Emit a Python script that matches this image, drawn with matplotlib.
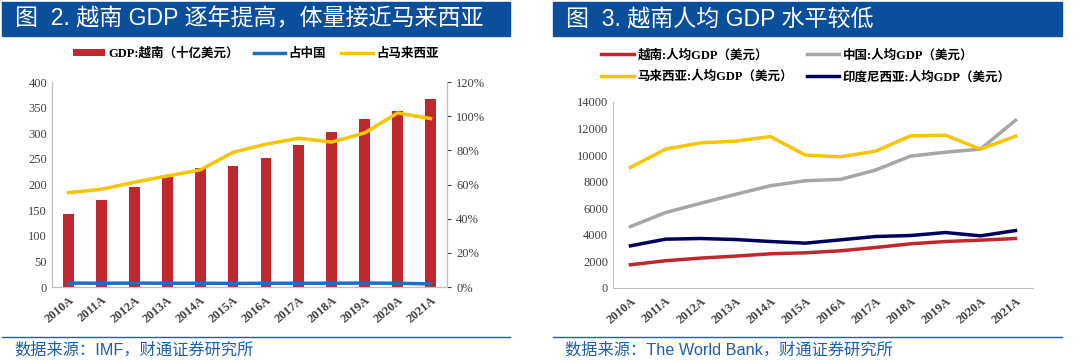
import matplotlib.pyplot as plt
import numpy as np
from matplotlib.patches import Rectangle
from matplotlib.lines import Line2D
from matplotlib.ticker import FuncFormatter

plt.rcParams['font.family'] = ['Liberation Serif', 'Noto Sans CJK SC']

# data
years = ['2010A', '2011A', '2012A', '2013A', '2014A', '2015A',
         '2016A', '2017A', '2018A', '2019A', '2020A', '2021A']
vn_gdp = [142, 170, 195, 214, 232, 236, 251, 277, 302, 327, 343, 366]
share_china = [2.3, 2.2, 2.3, 2.2, 2.2, 2.1, 2.2, 2.2, 2.2, 2.3, 2.2, 1.8]
share_malaysia = [55.2, 57.2, 61.3, 65.0, 68.5, 78.8, 83.6, 87.1, 84.8, 90.2, 101.9, 98.6]

pc_vietnam = [1750, 2050, 2250, 2400, 2575, 2650, 2800, 3050, 3325, 3500, 3600, 3725]
pc_china = [4625, 5675, 6375, 7050, 7700, 8075, 8175, 8875, 9925, 10225, 10450, 12625]
pc_malaysia = [9075, 10450, 10925, 11050, 11400, 10000, 9875, 10300, 11450, 11500, 10450, 11425]
pc_indonesia = [3175, 3675, 3725, 3650, 3500, 3375, 3625, 3875, 3950, 4175, 3925, 4325]

W, H = 1080, 362
BANNER = '#0b4f9c'
FOOT = '#1f5fa8'
SPINE = '#bfbfbf'
RED = '#c0282e'
YELLOW = '#f7c500'
BLUE = '#1b6ec2'
GRAY = '#a6a6a6'
NAVY = '#00005e'
SANS = ['Liberation Sans', 'Noto Sans CJK SC']
LEG_FONT = {'family': ['Liberation Serif', 'Noto Sans CJK SC'], 'weight': 'bold', 'size': 9}

fig = plt.figure(figsize=(W / 100, H / 100), dpi=100)


def px_axes(x0, y0, x1, y1):
    # pixel box (top-left origin) -> figure axes
    return fig.add_axes([x0 / W, 1 - y1 / H, (x1 - x0) / W, (y1 - y0) / H])


def banner(x0, x1, text):
    fig.patches.append(Rectangle((x0 / W, 1 - 36 / H), (x1 - x0) / W, 34 / H,
                                 transform=fig.transFigure, color=BANNER, zorder=0))
    fig.text((x0 + 13) / W, 1 - 19 / H, text, color='white', fontsize=16.6,
             family=SANS, va='center', ha='left')


def footer(x0, x1, text):
    fig.add_artist(Line2D([x0 / W, x1 / W], [1 - 337 / H, 1 - 337 / H],
                          transform=fig.transFigure, color=FOOT, lw=1))
    fig.text((x0 + 12) / W, 1 - 350 / H, text, color=FOOT, fontsize=11.7,
             family=SANS, va='center', ha='left')


def style_axis(ax):
    for s in ax.spines.values():
        s.set_color(SPINE)
    ax.tick_params(colors='#404040', labelsize=9, length=3)
    ax.tick_params(axis='x', length=0)


banner(2, 510, '图  2. 越南 GDP 逐年提高，体量接近马来西亚')
banner(553, 1062, '图  3. 越南人均 GDP 水平较低')
footer(2, 510, '数据来源：IMF，财通证券研究所')
footer(553, 1062, '数据来源：The World Bank，财通证券研究所')

# left chart
x = np.arange(len(years))
ax1 = px_axes(52, 82, 447, 287)
ax2 = ax1.twinx()
ax1.bar(x, vn_gdp, width=0.33, color=RED, label='GDP:越南（十亿美元）', zorder=2)
ax2.plot(x, share_china, color=BLUE, lw=2.5, label='占中国')
ax2.plot(x, share_malaysia, color=YELLOW, lw=2.5, label='占马来西亚')
ax1.set_xlim(-0.5, len(years) - 0.5)
ax1.set_ylim(0, 400)
ax1.set_yticks(np.arange(0, 401, 50))
ax2.set_ylim(0, 120)
ax2.set_yticks(np.arange(0, 121, 20))
ax2.yaxis.set_major_formatter(FuncFormatter(lambda v, p: f'{v:.0f}%'))
ax1.set_xticks(x)
ax1.set_xticklabels(years, rotation=40, ha='right', rotation_mode='anchor',
                    fontweight='bold', fontsize=8.3)
for a in (ax1, ax2):
    style_axis(a)
    a.spines['top'].set_visible(False)
ax1.tick_params(axis='y', length=0)
ax1.tick_params(axis='x', pad=5)

h1, l1 = ax1.get_legend_handles_labels()
h2, l2 = ax2.get_legend_handles_labels()
fig.legend(h1 + h2, l1 + l2, loc='center', bbox_to_anchor=(256 / W, 1 - 54 / H),
           ncol=3, frameon=False, handlelength=2.5, handleheight=0.5,
           columnspacing=1.2, handletextpad=0.3, prop=LEG_FONT)

# right chart
ax3 = px_axes(613, 102, 1033, 288)
ax3.plot(x, pc_vietnam, color=RED, lw=2.5, label='越南:人均GDP（美元）')
ax3.plot(x, pc_china, color=GRAY, lw=2.5, label='中国:人均GDP（美元）')
ax3.plot(x, pc_malaysia, color=YELLOW, lw=2.5, label='马来西亚:人均GDP（美元）')
ax3.plot(x, pc_indonesia, color=NAVY, lw=2.5, label='印度尼西亚:人均GDP（美元）')
ax3.set_xlim(-0.5, len(years) - 0.5)
ax3.set_ylim(0, 14000)
ax3.set_yticks(np.arange(0, 14001, 2000))
ax3.set_xticks(x)
ax3.set_xticklabels(years, rotation=40, ha='right', rotation_mode='anchor',
                    fontweight='bold', fontsize=8.3)
style_axis(ax3)
ax3.tick_params(axis='y', length=0)
ax3.tick_params(axis='x', pad=5)
ax3.spines['top'].set_visible(False)
ax3.spines['right'].set_visible(False)

h3, l3 = ax3.get_legend_handles_labels()
order = [0, 2, 1, 3]
fig.legend([h3[i] for i in order], [l3[i] for i in order], loc='center',
           bbox_to_anchor=(806 / W, 1 - 66 / H), ncol=2, frameon=False,
           handlelength=2.6, columnspacing=1.1, handletextpad=0.3, labelspacing=0.75,
           prop=LEG_FONT)

fig.savefig('out.png', dpi=100)
